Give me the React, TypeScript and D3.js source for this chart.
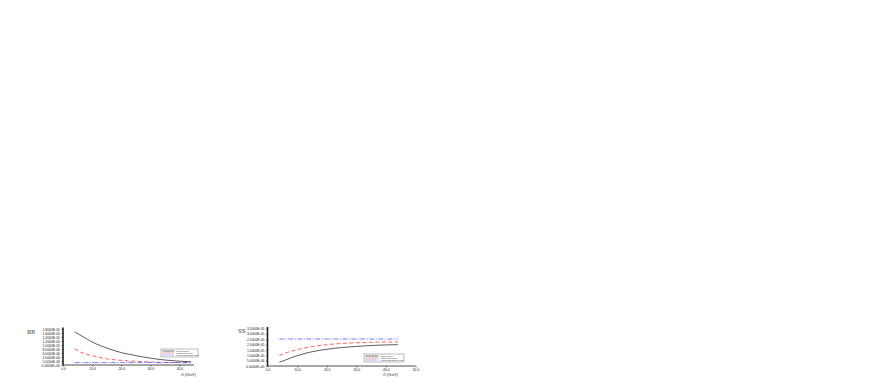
import React, { useEffect, useRef } from "react";
import * as d3 from "d3";

// Λ values (GeV) shared by both panels
const lambda = [4, 6, 8, 11, 15, 20, 25, 30, 35, 40, 44];

// BB panel (values in units of 1e-6)
const bbDirac = [16.6, 14.9, 13.2, 10.8, 8.5, 6.2, 4.7, 3.4, 2.5, 1.9, 1.6];
const bbMajorana = [8.2, 6.4, 5.4, 4.3, 3.1, 2.3, 1.85, 1.5, 1.3, 1.2, 1.15];
const bbRarita = [1.2, 1.2, 1.2, 1.2, 1.2, 1.2, 1.2, 1.2, 1.2, 1.2, 1.2];

// SS panel (values in units of 1e-6)
const ssDirac = [3.5, 5.5, 7.7, 10.4, 13.3, 15.6, 17.2, 18.3, 19.1, 19.7, 19.9];
const ssMajorana = [9.8, 12.0, 13.8, 15.9, 18.1, 19.9, 21.0, 21.7, 22.1, 22.4, 22.4];
const ssRarita = [25.2, 25.2, 25.2, 25.2, 25.2, 25.2, 25.2, 25.2, 25.2, 25.2, 25.2];

const legendNames = ["Dirac spinor", "Majorana spinor", "Rarita-Schwinger field"];

const bbYTicks = [0, 2, 4, 6, 8, 10, 12, 14, 16, 18];
const ssYTicks = [0, 5, 10, 15, 20, 25, 30, 35];
const bbXTicks = [0, 10, 20, 30, 40];
const ssXTicks = [0, 10, 20, 30, 40, 50];

const styles = [
  { color: "#333", dash: null },
  { color: "#ff3b3b", dash: "4,2.5" },
  { color: "#4a5cff", dash: "5,1.5,1,1.5" },
];

const fmtY = (v) => (v === 0 ? "0.0000E+00" : d3.format(".4e")(v * 1e-6).replace("e", "E").replace(/E([+-])(\d)$/, "E$10$2"));

const drawPanel = (g, cfg) => {
  const x = d3.scaleLinear().domain(cfg.xDomain).range([cfg.left, cfg.right]);
  const y = d3.scaleLinear().domain(cfg.yDomain).range([cfg.bottom, cfg.top]);

  // curves
  const line = d3
    .line()
    .x((d) => x(d[0]))
    .y((d) => y(d[1]))
    .curve(d3.curveMonotoneX);

  cfg.series.forEach((vals, i) => {
    g.append("path")
      .datum(lambda.map((l, j) => [l, vals[j]]))
      .attr("fill", "none")
      .attr("stroke", styles[i].color)
      .attr("stroke-width", 0.8)
      .attr("stroke-dasharray", styles[i].dash)
      .attr("d", line);
  });

  // y axis
  const yAxis = d3
    .axisLeft(y)
    .tickValues(cfg.yTicks)
    .tickSize(1.5)
    .tickPadding(1.5)
    .tickFormat(fmtY);
  const ya = g.append("g").attr("transform", `translate(${cfg.left},0)`).call(yAxis);
  ya.select(".domain").remove();
  ya.selectAll("line").attr("stroke", "#222").attr("stroke-width", 0.6);
  ya.selectAll("text").attr("font-size", 3.4).attr("fill", "#222").attr("font-family", "Liberation Sans, sans-serif");

  // x axis
  const xAxis = d3
    .axisBottom(x)
    .tickValues(cfg.xTicks)
    .tickSize(1.5)
    .tickPadding(0.8)
    .tickFormat(d3.format(".1f"));
  const xa = g.append("g").attr("transform", `translate(0,${cfg.bottom})`).call(xAxis);
  xa.select(".domain").remove();
  xa.selectAll("line").attr("stroke", "#222").attr("stroke-width", 0.6);
  xa.selectAll("text").attr("font-size", 3.4).attr("fill", "#222").attr("font-family", "Liberation Sans, sans-serif");

  // axis lines
  g.append("line")
    .attr("x1", cfg.left)
    .attr("x2", cfg.left)
    .attr("y1", cfg.top - 1.5)
    .attr("y2", cfg.bottom)
    .attr("stroke", "#222")
    .attr("stroke-width", 1.6);
  g.append("line")
    .attr("x1", cfg.left)
    .attr("x2", cfg.right)
    .attr("y1", cfg.bottom)
    .attr("y2", cfg.bottom)
    .attr("stroke", "#222")
    .attr("stroke-width", 0.8);

  // panel label
  g.append("text")
    .attr("x", cfg.labelX)
    .attr("y", cfg.labelY)
    .attr("font-size", 5.5)
    .attr("font-family", "DejaVu Serif, serif")
    .attr("fill", "#333")
    .text(cfg.label);

  // x label
  g.append("text")
    .attr("x", cfg.xLabelX)
    .attr("y", cfg.xLabelY)
    .attr("font-size", 4.2)
    .attr("font-family", "Liberation Sans, sans-serif")
    .attr("fill", "#333")
    .text("Λ  (GeV)");

  // legend
  const lg = g.append("g").attr("transform", `translate(${cfg.legX},${cfg.legY})`);
  lg.append("rect")
    .attr("width", cfg.legW)
    .attr("height", 8)
    .attr("fill", "white")
    .attr("stroke", "#555")
    .attr("stroke-width", 0.4);
  legendNames.forEach((name, i) => {
    const yy = 2 + i * 2;
    lg.append("line")
      .attr("x1", 1.5)
      .attr("x2", cfg.legW * 0.36)
      .attr("y1", yy)
      .attr("y2", yy)
      .attr("stroke", styles[i].color)
      .attr("stroke-width", 0.7)
      .attr("stroke-dasharray", styles[i].dash ? "2,1" : null);
    lg.append("text")
      .attr("x", cfg.legW * 0.42)
      .attr("y", yy + 0.8)
      .attr("font-size", 2.3)
      .attr("font-family", "Liberation Sans, sans-serif")
      .attr("fill", "#333")
      .text(name);
  });
};

const App = () => {
  const svgRef = useRef(null);

  useEffect(() => {
    const svg = d3.select(svgRef.current);
    svg.selectAll("*").remove();

    drawPanel(svg.append("g"), {
      left: 63,
      right: 194,
      top: 329,
      bottom: 365,
      xDomain: [0, 45],
      yDomain: [0, 18],
      xTicks: bbXTicks,
      yTicks: bbYTicks,
      series: [bbDirac, bbMajorana, bbRarita],
      label: "BB",
      labelX: 27,
      labelY: 334,
      xLabelX: 181,
      xLabelY: 375.5,
      legX: 161,
      legY: 349,
      legW: 37,
    });

    drawPanel(svg.append("g"), {
      left: 267.5,
      right: 415.5,
      top: 328.5,
      bottom: 366,
      xDomain: [0, 50],
      yDomain: [0, 35],
      xTicks: ssXTicks,
      yTicks: ssYTicks,
      series: [ssDirac, ssMajorana, ssRarita],
      label: "SS",
      labelX: 238,
      labelY: 333,
      xLabelX: 383,
      xLabelY: 376,
      legX: 364,
      legY: 354,
      legW: 40,
    });
  }, []);

  return (
    <svg
      ref={svgRef}
      width={872}
      height={382}
      style={{ position: "absolute", left: 0, top: 0, background: "white" }}
    />
  );
};

export default App;
